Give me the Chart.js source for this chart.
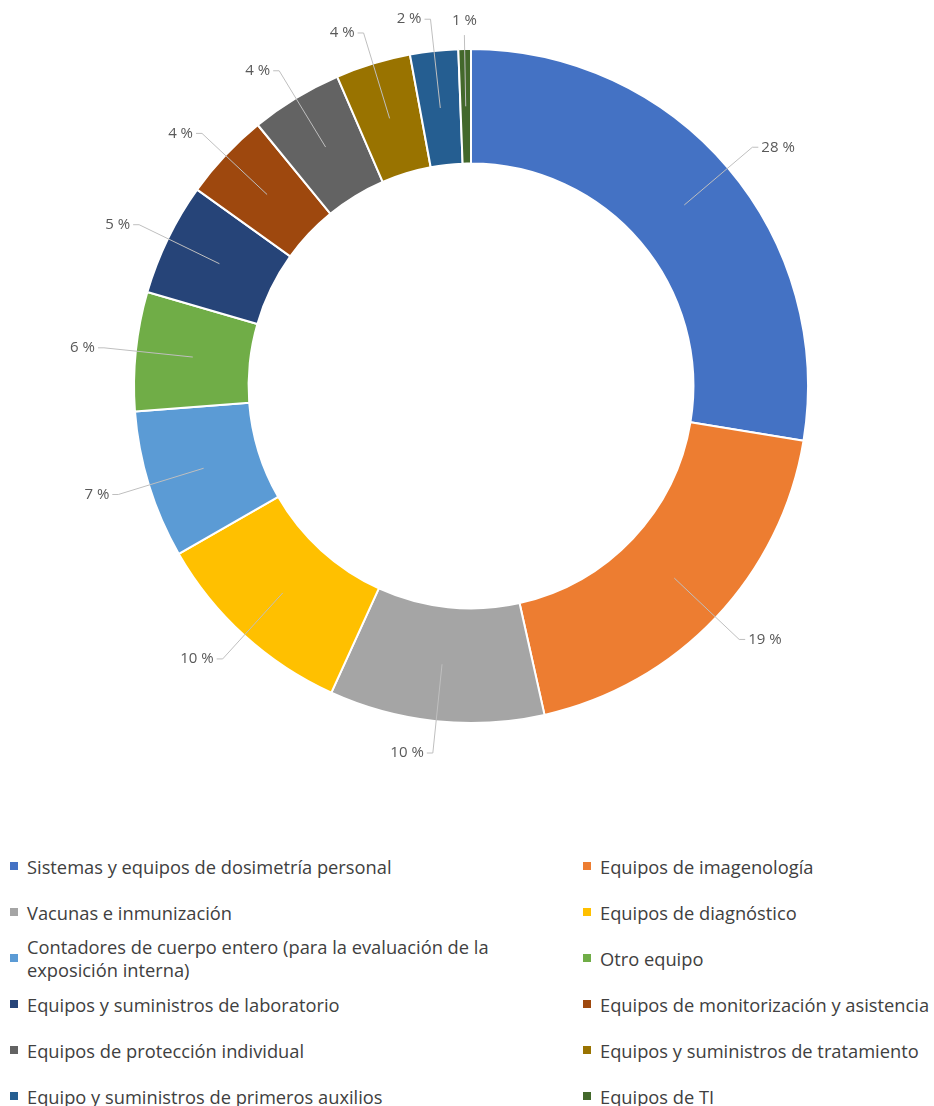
<!DOCTYPE html>
<html>
<head>
<meta charset="utf-8">
<script src="https://cdn.jsdelivr.net/npm/chart.js@4.4.0/dist/chart.umd.min.js"></script>
<style>
  body { margin: 0; background: #fff; font-family: "Open Sans", sans-serif; }
  #wrap { position: relative; width: 934px; height: 772px; }
  #legend {
    display: grid;
    grid-template-columns: 576px 358px;
    grid-auto-rows: 46px;
    margin-top: 71px;
    color: #404040;
    font-size: 18.3px;
    line-height: 23px;
  }
  .item { display: flex; align-items: center; white-space: normal; }
  .item.l { padding-left: 10px; }
  .item.r { padding-left: 7px; }
  .sw { width: 8px; height: 8px; flex: none; margin-right: 9px; }
  .txt { max-width: 495px; }
</style>
</head>
<body>
<div id="wrap"><canvas id="donut"></canvas></div>
<div id="legend"></div>
<script>
// categories in drawing order (clockwise from the top)
var categories = [
  'Sistemas y equipos de dosimetría personal',
  'Equipos de imagenología',
  'Vacunas e inmunización',
  'Equipos de diagnóstico',
  'Contadores de cuerpo entero (para la evaluación de la exposición interna)',
  'Otro equipo',
  'Equipos y suministros de laboratorio',
  'Equipos de monitorización y asistencia',
  'Equipos de protección individual',
  'Equipos y suministros de tratamiento',
  'Equipo y suministros de primeros auxilios',
  'Equipos de TI'
];
var shares = [27.6, 18.9, 10.3, 9.9, 7.1, 5.7, 5.4, 4.2, 4.4, 3.6, 2.3, 0.6];
var pctLabels = ['28 %', '19 %', '10 %', '10 %', '7 %', '6 %', '5 %', '4 %', '4 %', '4 %', '2 %', '1 %'];
var colors = ['#4472C4', '#ED7D31', '#A5A5A5', '#FFC000', '#5B9BD5', '#70AD47',
              '#264478', '#9E480E', '#636363', '#997300', '#255E91', '#43682B'];

// leader lines + percentage labels
var leaderLabels = {
  id: 'leaderLabels',
  afterDatasetsDraw(chart) {
    var ctx = chart.ctx;
    var arcs = chart.getDatasetMeta(0).data;
    ctx.save();
    ctx.font = '15px "Open Sans", sans-serif';
    ctx.textBaseline = 'middle';
    arcs.forEach(function (arc, i) {
      var p = arc.getProps(['x', 'y', 'startAngle', 'endAngle', 'innerRadius', 'outerRadius']);
      var mid = (p.startAngle + p.endAngle) / 2;
      var rA = (p.innerRadius + p.outerRadius) / 2;
      var ax = p.x + Math.cos(mid) * rA, ay = p.y + Math.sin(mid) * rA;
      var nearTop = Math.abs(Math.cos(mid)) < 0.06;
      var rE = p.outerRadius + (nearTop ? 14 : 32);
      var ex = p.x + Math.cos(mid) * rE, ey = p.y + Math.sin(mid) * rE;
      ctx.strokeStyle = '#BFBFBF';
      ctx.lineWidth = 1;
      ctx.fillStyle = '#595959';
      ctx.beginPath();
      ctx.moveTo(ax, ay);
      ctx.lineTo(ex, ey);
      if (nearTop) {
        ctx.stroke();
        ctx.textAlign = 'center';
        ctx.fillText(pctLabels[i], ex, ey - 14);
      } else {
        var s = ex > p.x ? 1 : -1;
        ctx.lineTo(ex + s * 6, ey);
        ctx.stroke();
        ctx.textAlign = s > 0 ? 'left' : 'right';
        ctx.fillText(pctLabels[i], ex + s * 9, ey);
      }
    });
    ctx.restore();
  }
};

new Chart(document.getElementById('donut'), {
  type: 'doughnut',
  data: {
    labels: categories,
    datasets: [{
      data: shares,
      backgroundColor: colors,
      borderColor: '#ffffff',
      borderWidth: 2
    }]
  },
  options: {
    responsive: true,
    maintainAspectRatio: false,
    animation: false,
    cutout: '66%',
    layout: { padding: { top: 48, bottom: 48, left: 8, right: 0 } },
    plugins: { legend: { display: false }, tooltip: { enabled: false } }
  },
  plugins: [leaderLabels]
});

// legend in two columns, left = even indexes, right = odd indexes
var legend = document.getElementById('legend');
categories.forEach(function (name, i) {
  var div = document.createElement('div');
  div.className = 'item ' + (i % 2 === 0 ? 'l' : 'r');
  div.innerHTML = '<span class="sw" style="background:' + colors[i] + '"></span><span class="txt">' + name + '</span>';
  legend.appendChild(div);
});
</script>
</body>
</html>
